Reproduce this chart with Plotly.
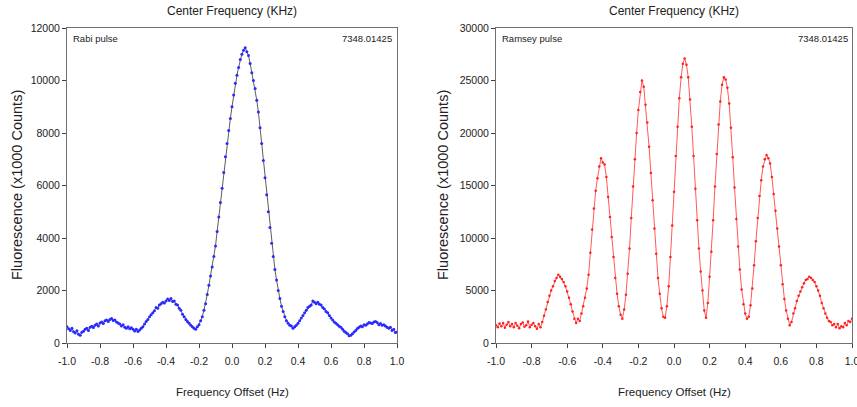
import plotly.graph_objects as go

# ---------------- data ----------------
freq_offset = [round(-1.0 + 0.01 * i, 2) for i in range(201)]

rabi_counts = [
    620, 540, 480, 560, 430, 380, 470, 330, 300, 410, 450,
    520, 560, 480, 600, 640, 590, 680, 720, 650, 760,
    800, 740, 850, 880, 820, 900, 930, 860, 880, 800,
    760, 720, 650, 700, 600, 560, 620, 540, 580, 520,
    460, 520, 440, 500, 560, 620, 720, 820, 900, 1000,
    1080, 1150, 1230, 1350, 1320, 1450, 1500, 1550, 1520, 1600,
    1680, 1620, 1700, 1580, 1600, 1480, 1450, 1320, 1250, 1100,
    1000, 900, 820, 750, 680, 620, 560, 520, 620, 700,
    850, 1000, 1250, 1500, 1850, 2200, 2550, 2900, 3300, 3700,
    4250, 4800, 5350, 5900, 6500, 7100, 7600, 8100, 8550, 9000,
    9450, 9900, 10200, 10500, 10800, 11000, 11150, 11250, 11100, 10950,
    10650, 10300, 10000, 9700, 9250, 8800, 8200, 7600, 6950, 6300,
    5650, 5000, 4400, 3800, 3300, 2800, 2400, 2000, 1700, 1400,
    1200, 1000, 850, 750, 680, 650, 560, 620, 680, 750,
    850, 950, 1050, 1150, 1250, 1350, 1400, 1450, 1600, 1550,
    1500, 1550, 1480, 1450, 1350, 1300, 1200, 1150, 1050, 950,
    880, 800, 750, 700, 640, 600, 520, 450, 400, 350,
    280, 300, 350, 420, 480, 550, 600, 650, 620, 700,
    680, 720, 780, 760, 740, 800, 820, 780, 700, 740,
    680, 700, 650, 600, 560, 600, 480, 520, 400, 420,
]

ramsey_counts = [
    1700, 1500, 1850, 1600, 1900, 1450, 1750, 2000, 1600, 1800, 1500,
    1900, 1650, 1400, 1800, 1950, 1550, 1700, 2050, 1500, 1750,
    1900, 1600, 1350, 1800, 1500, 2000, 2600, 3200, 3900, 4500,
    5000, 5400, 5900, 6200, 6500, 6300, 6100, 5800, 5400, 4900,
    4300, 3700, 3000, 2300, 1900, 2300, 2100, 2800, 3500, 4300,
    5200, 6500, 8600, 10800, 12800, 14500, 15700, 16800, 17600, 17200,
    17000, 15800, 13900, 12000, 10100, 8200, 6200, 4700, 3500, 2700,
    2300, 3200, 4600, 6600, 9000, 11900, 14900, 17500, 20000, 22200,
    23900, 25000, 24400, 22700, 21000, 18700, 16200, 13600, 10900, 8500,
    6200, 4700, 3300, 2500, 2400, 3500, 5400, 8200, 11200, 14400,
    17800, 20600, 23300, 25300, 26600, 27100, 26500, 25300, 23200, 20600,
    17800, 14700, 11700, 9000, 6800, 5000, 3100, 2400, 3800, 6300,
    8700, 11700, 14900, 18000, 20800, 23000, 24600, 25300, 25100, 24300,
    22800, 20500, 17700, 14800, 11800, 9200, 7000, 5100, 3700, 2800,
    2300, 2500, 3600, 5200, 7400, 9700, 11900, 14000, 15500, 16800,
    17500, 17900, 17600, 17100, 15800, 14200, 12600, 10900, 9200, 7400,
    5600, 4200, 3100, 2300, 1700, 2000, 2800, 3300, 4000, 4500,
    4900, 5300, 5700, 6000, 6100, 6300, 6200, 6000, 5800, 5400,
    5000, 4500, 3800, 3300, 2800, 2400, 2100, 2000, 1700, 1800,
    1500, 1800, 1400, 1600, 1500, 1900, 1700, 2100, 2000, 2300,
]

x_tickvals = [-1.0, -0.8, -0.6, -0.4, -0.2, 0.0, 0.2, 0.4, 0.6, 0.8, 1.0]
x_ticktext = ["-1.0", "-0.8", "-0.6", "-0.4", "-0.2", "0.0", "0.2", "0.4", "0.6", "0.8", "1.0"]
rabi_yticks = [0, 2000, 4000, 6000, 8000, 10000, 12000]
ramsey_yticks = [0, 5000, 10000, 15000, 20000, 25000, 30000]

center_freq_label = "7348.01425"

# ---------------- figure ----------------
W, H = 857, 407
FONT = "Liberation Sans Narrow, Arial Narrow, Liberation Sans, Arial, sans-serif"

fig = go.Figure()

fig.add_trace(go.Scatter(
    x=freq_offset, y=rabi_counts, mode="lines+markers",
    line=dict(color="#333333", width=0.8),
    marker=dict(color="#2a2aff", size=3),
    xaxis="x", yaxis="y", showlegend=False,
))
fig.add_trace(go.Scatter(
    x=freq_offset, y=ramsey_counts, mode="lines+markers",
    line=dict(color="#ff5a5a", width=1),
    marker=dict(color="#ff2020", size=2.5),
    xaxis="x2", yaxis="y2", showlegend=False,
))

def px_x(p):
    return p / W

def px_y(p):
    return (H - p) / H

ydom = [px_y(343), px_y(28)]
axis_common = dict(
    showgrid=False, zeroline=False, showline=True, mirror=True,
    linecolor="#707070", linewidth=1, ticks="outside", ticklen=4,
    tickcolor="#404040", tickwidth=1,
    tickfont=dict(family=FONT, size=10.5, color="#222222"),
)

fig.update_layout(
    width=W, height=H,
    margin=dict(l=0, r=0, t=0, b=0, autoexpand=False),
    paper_bgcolor="white", plot_bgcolor="white",
    xaxis=dict(domain=[px_x(67), px_x(397)], range=[-1, 1], anchor="y",
               tickvals=x_tickvals, ticktext=x_ticktext, ticklabelstandoff=4,
               ticklabeloverflow="allow", **axis_common),
    yaxis=dict(domain=ydom, range=[0, 12000], anchor="x",
               tickvals=rabi_yticks, ticktext=[str(v) for v in rabi_yticks], **axis_common),
    xaxis2=dict(domain=[px_x(496), px_x(852)], range=[-1, 1], anchor="y2",
                tickvals=x_tickvals, ticktext=x_ticktext, ticklabelstandoff=4,
                ticklabeloverflow="allow", **axis_common),
    yaxis2=dict(domain=ydom, range=[0, 30000], anchor="x2",
                tickvals=ramsey_yticks, ticktext=[str(v) for v in ramsey_yticks], **axis_common),
)

ann = []
def add_text(text, x, y, size, xanchor="center", angle=0):
    ann.append(dict(text=text, x=px_x(x), y=px_y(y), xref="paper", yref="paper",
                    xanchor=xanchor, yanchor="middle", showarrow=False, textangle=angle,
                    font=dict(family=FONT, size=size, color="#222222")))

for cx, yt_x, left_x, right_x, label in [
    (232, 17, 71, 394, "Rabi pulse"),
    (674, 443, 500, 850, "Ramsey pulse"),
]:
    add_text("Center Frequency (KHz)", cx, 11, 12)
    add_text("Frequency Offset (Hz)", cx, 392, 11.5)
    add_text("Fluorescence (x1000 Counts)", yt_x, 185, 14.5, angle=-90)
    add_text(label, left_x, 38, 9.5, xanchor="left")
    add_text(center_freq_label, right_x, 38, 9.5, xanchor="right")

fig.update_layout(annotations=ann)

# remove the default 8px page margin so the figure fills the window exactly
fig.write_html("out.html",
               config={"displayModeBar": False},
               post_script="document.body.style.margin='0';document.body.style.padding='0';")
